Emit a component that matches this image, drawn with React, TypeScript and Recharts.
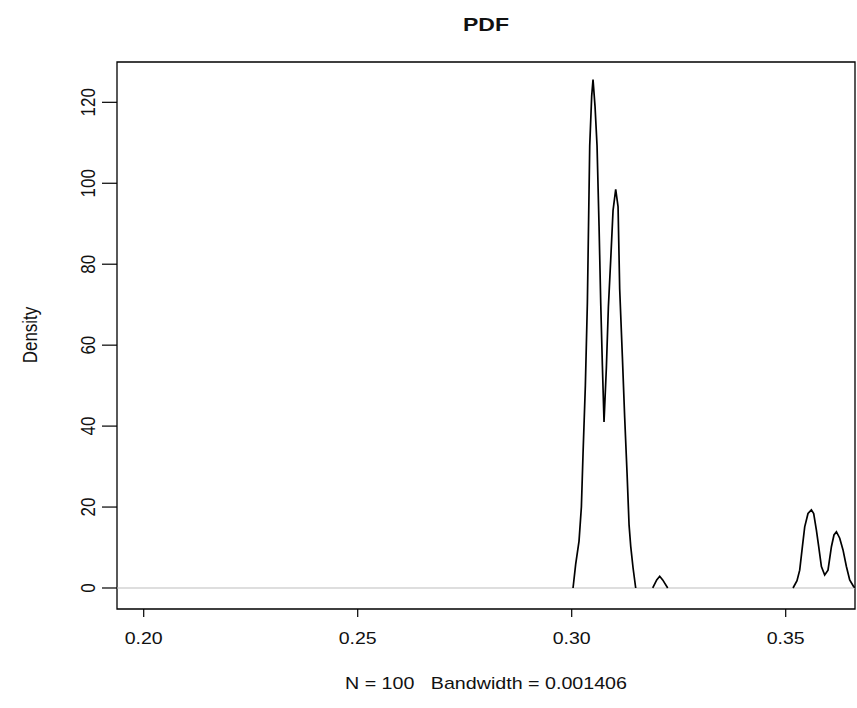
import React from 'react';
import { LineChart, Line, XAxis, YAxis, ReferenceLine, ReferenceArea } from 'recharts';

const X_TICKS = [0.2, 0.25, 0.3, 0.35];
const Y_TICKS = [0, 20, 40, 60, 80, 100, 120];
const X_DOMAIN: [number, number] = [0.19376, 0.36619];
const Y_DOMAIN: [number, number] = [-5.19, 129.96];

const TITLE = 'PDF';
const X_LABEL = 'N = 100   Bandwidth = 0.001406';
const Y_LABEL = 'Density';

// main twin peak around 0.305 / 0.310
const mainPeakX = [0.30031, 0.30093, 0.30171, 0.30226, 0.30265, 0.30319, 0.30366, 0.30421, 0.30467, 0.30498,
  0.30545, 0.30592, 0.30639, 0.30678, 0.30717, 0.30755, 0.3081, 0.30857, 0.30911, 0.30966,
  0.31028, 0.31083, 0.31121, 0.31184, 0.31238, 0.31293, 0.3134, 0.31379, 0.31433, 0.31495];
const mainPeakY = [0, 5.9, 11.6, 20.0, 33.3, 50.0, 70.4, 109.3, 121.6, 125.6,
  119.0, 109.3, 89.4, 70.4, 54.9, 41.0, 54.5, 69.5, 81.0, 93.3,
  98.5, 94.2, 73.9, 57.1, 42.1, 28.4, 15.6, 10.3, 5.0, 0];

// small bump near 0.32
const smallBumpX = [0.31893, 0.31986, 0.32056, 0.32126, 0.32243];
const smallBumpY = [0, 2.0, 2.9, 2.0, 0];

// right pair of peaks near 0.356 / 0.362
const rightPeaksX = [0.35171, 0.35264, 0.35327, 0.3539, 0.35444, 0.35521, 0.356, 0.35654, 0.35717, 0.35771,
  0.35834, 0.35911, 0.35988, 0.36068, 0.36128, 0.36185, 0.36262, 0.36339, 0.36418, 0.36495, 0.36589, 0.3665];
const rightPeaksY = [0, 1.8, 4.4, 10.2, 15.1, 18.4, 19.3, 18.4, 14.3, 10.2,
  5.3, 3.2, 4.4, 10.2, 13.1, 13.9, 12.3, 9.4, 5.3, 2.0, 0.3, 0];

const segments: [number[], number[]][] = [
  [mainPeakX, mainPeakY],
  [smallBumpX, smallBumpY],
  [rightPeaksX, rightPeaksY],
];

const data: { x: number; y: number | null }[] = [];
segments.forEach(([xs, ys], i) => {
  if (i > 0) {
    const prevX = data[data.length - 1].x;
    data.push({ x: (prevX + xs[0]) / 2, y: null });
  }
  xs.forEach((x, j) => data.push({ x, y: ys[j] }));
});

const FONT = '"Liberation Sans", Arial, Helvetica, sans-serif';

const XTick = (props: any) => {
  const { x, y, payload } = props;
  return (
    <text x={x} y={y + 25} textAnchor="middle" fontFamily={FONT} fontSize={17} fill="#111"
      textLength={38} lengthAdjust="spacingAndGlyphs">
      {Number(payload.value).toFixed(2)}
    </text>
  );
};

const YTick = (props: any) => {
  const { x, y, payload } = props;
  const bx = x - 5;
  return (
    <text transform={`translate(${bx},${y}) scale(1.15,1) rotate(-90)`} x={0} y={0} textAnchor="middle"
      fontFamily={FONT} fontSize={17} fill="#111">
      {String(payload.value)}
    </text>
  );
};

export default function App() {
  return (
    <div style={{ position: 'absolute', left: 0, top: 0, width: 857, height: 708, background: '#fff' }}>
      <LineChart width={857} height={708} data={data} margin={{ top: 62, right: 2, bottom: 0, left: 0 }}>
        <XAxis type="number" dataKey="x" domain={X_DOMAIN} allowDataOverflow ticks={X_TICKS} interval={0}
          tick={<XTick />} tickSize={8} tickLine={{ stroke: '#000', strokeWidth: 1.2 }} axisLine={false} height={99} />
        <YAxis type="number" domain={Y_DOMAIN} allowDataOverflow ticks={Y_TICKS} interval={0}
          tick={<YTick />} tickSize={15} tickLine={{ stroke: '#000', strokeWidth: 1.2 }} axisLine={false} width={117} />
        <ReferenceLine y={0} stroke="#bebebe" strokeWidth={1.2} />
        <Line type="linear" dataKey="y" stroke="#000" strokeWidth={1.7} dot={false} connectNulls={false}
          isAnimationActive={false} />
        <ReferenceArea x1={X_DOMAIN[0]} x2={X_DOMAIN[1]} y1={Y_DOMAIN[0]} y2={Y_DOMAIN[1]} fill="none"
          fillOpacity={0} stroke="#000" strokeWidth={1.3} ifOverflow="visible" />
      </LineChart>
      <svg width={857} height={708} style={{ position: 'absolute', left: 0, top: 0, pointerEvents: 'none' }}>
        <text x={486} y={31} textAnchor="middle" fontFamily={FONT} fontWeight="bold" fontSize={18} fill="#111"
          textLength={46} lengthAdjust="spacingAndGlyphs">{TITLE}</text>
        <text x={486} y={689} textAnchor="middle" fontFamily={FONT} fontSize={17} fill="#111"
          textLength={282} lengthAdjust="spacingAndGlyphs" style={{ whiteSpace: 'pre' }}>{X_LABEL}</text>
        <text transform={`translate(37,335) scale(1.15,1) rotate(-90)`} x={0} y={0} textAnchor="middle"
          fontFamily={FONT} fontSize={17} fill="#111">{Y_LABEL}</text>
      </svg>
    </div>
  );
}
